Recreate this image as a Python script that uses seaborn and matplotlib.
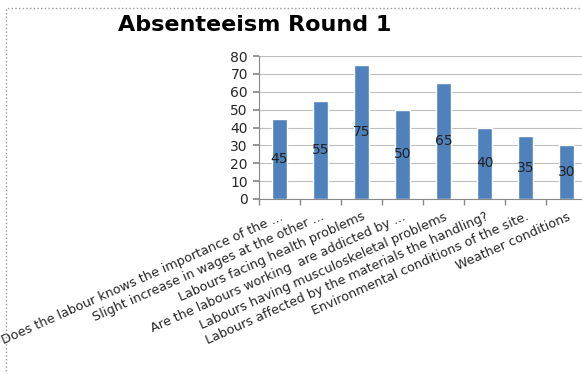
import pandas as pd
import seaborn as sns
import matplotlib.pyplot as plt
from matplotlib.patches import Rectangle

categories = [
    "Does the labour knows the importance of the ...",
    "Slight increase in wages at the other ...",
    "Labours facing health problems",
    "Are the labours working  are addicted by ...",
    "Labours having musculoskeletal problems",
    "Labours affected by the materials the handling?",
    "Environmental conditions of the site.",
    "Weather conditions",
]
values = [45, 55, 75, 50, 65, 40, 35, 30]
yticks = [0, 10, 20, 30, 40, 50, 60, 70, 80]

df = pd.DataFrame({"question": categories, "score": values})

sns.set_theme(style="white")
plt.rcParams["font.family"] = ["DejaVu Sans"]

fig = plt.figure(figsize=(5.82, 3.74), dpi=100)
ax = fig.add_axes([0.445, 0.468, 0.564, 0.382])

sns.barplot(data=df, x="question", y="score", color="#4F81BD", width=0.37,
            saturation=1, ax=ax)

# value labels in the middle of each bar
for i, v in enumerate(values):
    ax.text(i, v / 2, str(v), ha="center", va="center", fontsize=10, color="#222222")

ax.set_ylim(0, 80)
ax.set_xlim(-0.5, len(categories) - 0.5)
ax.set_yticks(yticks)
ax.set_yticklabels([str(t) for t in yticks], fontsize=10)
ax.yaxis.grid(True, color="#BFBFBF", linewidth=0.8)
ax.set_axisbelow(True)
ax.set_xlabel("")
ax.set_ylabel("")

ax.set_xticks(range(len(categories)))
ax.set_xticklabels(categories, rotation=24, ha="right", rotation_mode="anchor", fontsize=9.2)
ax.tick_params(axis="x", length=0, pad=8)
ax.set_xticks([i + 0.5 for i in range(-1, len(categories))], minor=True)
ax.tick_params(axis="x", which="minor", length=4, color="#888888", direction="out", bottom=True)
ax.tick_params(axis="y", length=4, color="#888888", direction="out", left=True, pad=4)

for side in ["top", "right"]:
    ax.spines[side].set_visible(False)
for side in ["left", "bottom"]:
    ax.spines[side].set_color("#888888")
    ax.spines[side].set_linewidth(0.8)

fig.text(0.438, 0.933, "Absenteeism Round 1", ha="center", va="center",
         fontsize=16, fontweight="bold", color="black")

# chart border
fig.patches.append(Rectangle((6 / 582, -0.01), 1.0, 1 - 8 / 374 + 0.01,
                             transform=fig.transFigure, fill=False,
                             edgecolor="#999999", linewidth=1, linestyle=":"))

fig.savefig("out.png", dpi=100)
